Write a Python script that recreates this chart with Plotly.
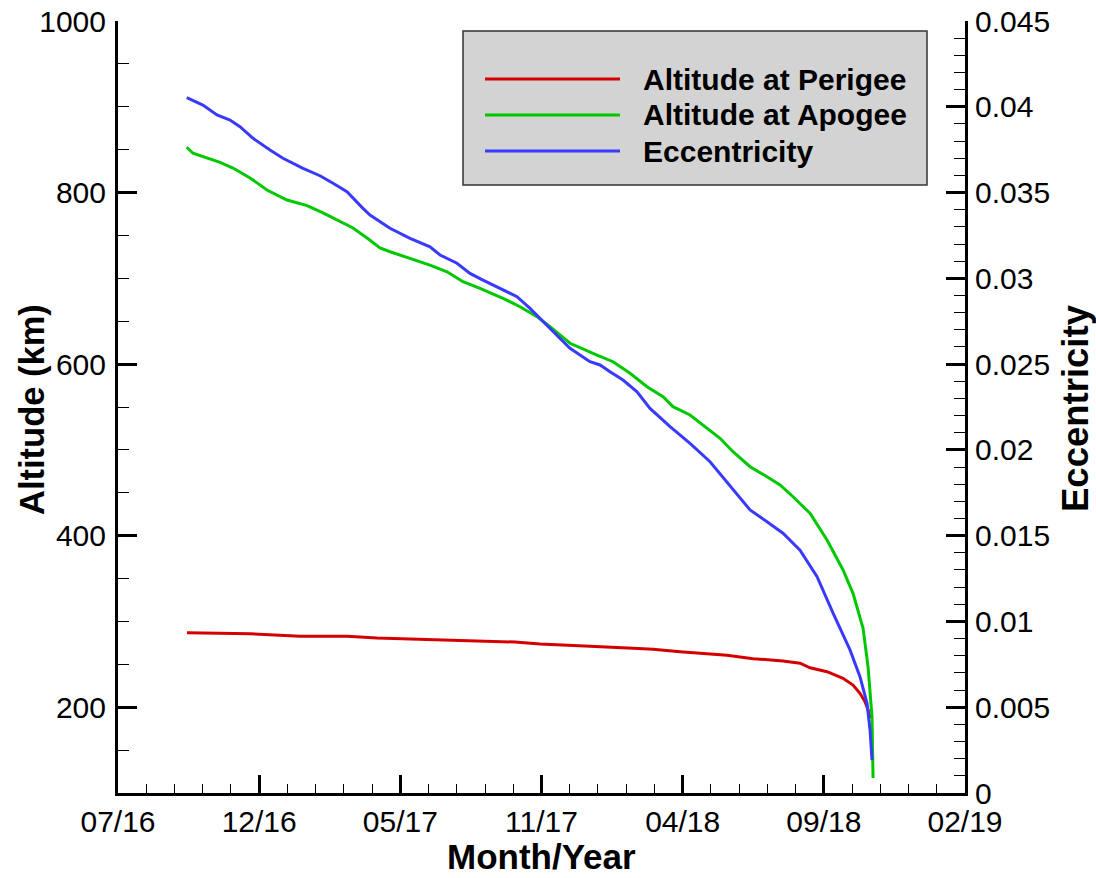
import plotly.graph_objects as go

# ---------------- data (x in days since the 07/16 tick) ----------------
tick_days = [0, 150, 300, 450, 600, 750, 900]
tick_labels = ["07/16", "12/16", "05/17", "11/17", "04/18", "09/18", "02/19"]

perigee_days = [73.3, 140.3, 193.4, 243.3, 275.2, 329.4, 376.2, 421.9, 448.4, 472.9, 501.5,
                547.2, 568.5, 597.2, 621.6, 647.1, 674.8, 706.6, 724.7, 735.3, 753.4, 770.4,
                781.0, 788.4, 793.8, 797.0, 799.1]
perigee_alt = [286.9, 285.7, 282.7, 282.7, 280.7, 279.2, 277.2, 276.0, 273.7, 272.2, 271.0,
               268.7, 267.6, 264.8, 262.9, 260.6, 256.6, 253.9, 251.3, 246.0, 241.4, 233.7,
               225.9, 216.2, 206.4, 196.8, 187.4]

apogee_days = [73.0, 79.7, 108.4, 122.2, 140.3, 158.3, 179.6, 200.9, 217.8, 232.7, 249.7,
               264.6, 278.4, 289.0, 310.3, 331.5, 349.6, 366.6, 384.7, 409.1, 427.2, 445.2,
               459.0, 480.3, 509.0, 526.0, 544.1, 562.1, 579.1, 589.7, 607.8, 629.1, 639.7,
               653.5, 671.6, 689.6, 703.5, 717.3, 735.3, 753.4, 770.4, 781.0, 791.7, 797.0,
               801.2, 802.3]
apogee_alt = [852.8, 845.8, 835.3, 828.6, 817.0, 803.0, 791.3, 784.7, 776.2, 768.0, 758.7,
              747.0, 735.4, 731.0, 723.4, 715.5, 707.7, 696.1, 688.4, 676.7, 666.9, 655.3,
              643.6, 624.3, 610.6, 602.8, 589.3, 573.7, 562.0, 550.4, 540.7, 523.2, 513.5,
              497.9, 480.4, 468.7, 459.1, 445.4, 426.1, 395.0, 360.0, 332.8, 292.0, 246.9,
              188.6, 117.5]

ecc_days = [73.0, 90.2, 105.2, 119.0, 129.6, 143.5, 161.5, 175.3, 196.6, 214.6, 228.5,
            243.3, 260.3, 267.8, 289.0, 310.3, 331.5, 342.2, 360.2, 374.0, 387.8, 409.1,
            424.0, 437.8, 459.0, 480.3, 501.5, 512.2, 522.8, 536.6, 551.5, 565.3, 586.6,
            607.8, 629.1, 653.5, 671.6, 689.6, 706.6, 724.7, 742.8, 759.8, 777.8, 788.4,
            795.9, 799.1, 801.2]
ecc_vals = [0.04053, 0.04010, 0.03952, 0.03923, 0.03884, 0.03816, 0.03748, 0.03700, 0.03641,
            0.03598, 0.03554, 0.03505, 0.03408, 0.03369, 0.03292, 0.03233, 0.03184, 0.03136,
            0.03088, 0.03029, 0.02990, 0.02932, 0.02893, 0.02825, 0.02709, 0.02592, 0.02514,
            0.02495, 0.02456, 0.02407, 0.02339, 0.02242, 0.02135, 0.02038, 0.01931, 0.01766,
            0.01650, 0.01581, 0.01514, 0.01416, 0.01261, 0.01048, 0.00834, 0.00678, 0.00523,
            0.00367, 0.00192]

series_names = ["Altitude at Perigee", "Altitude at Apogee", "Eccentricity"]
series_colors = ["#d40000", "#00c800", "#3a3aff"]

# ---------------- figure ----------------
W, H = 1096, 878
L, R, T, B = 118, 965, 21, 793
FONT = "Liberation Sans, Arial, sans-serif"

def px(x):
    return (x - L) / (R - L)

def py(y):
    return (B - y) / (B - T)

fig = go.Figure()
fig.add_trace(go.Scatter(x=perigee_days, y=perigee_alt, mode="lines", name=series_names[0],
                         line=dict(color=series_colors[0], width=3), showlegend=False))
fig.add_trace(go.Scatter(x=apogee_days, y=apogee_alt, mode="lines", name=series_names[1],
                         line=dict(color=series_colors[1], width=3), showlegend=False))
fig.add_trace(go.Scatter(x=ecc_days, y=ecc_vals, mode="lines", name=series_names[2], yaxis="y2",
                         line=dict(color=series_colors[2], width=3), showlegend=False))

tickfont = dict(family=FONT, size=30, color="black")

fig.update_layout(
    width=W, height=H,
    margin=dict(l=L, r=W - R, t=T, b=H - B, pad=0, autoexpand=False),
    paper_bgcolor="white", plot_bgcolor="white",
    showlegend=False,
    xaxis=dict(range=[0, 900], tickvals=tick_days, ticktext=tick_labels, automargin=False,
               showgrid=False, zeroline=False, showline=True, linecolor="black", linewidth=3,
               ticks="inside", ticklen=18, tickwidth=3, tickcolor="black",
               minor=dict(ticks="inside", dtick=30, tick0=0, ticklen=9, tickwidth=1,
                          tickcolor="black", showgrid=False),
               tickfont=tickfont, ticklabelstandoff=0),
    yaxis=dict(range=[100, 1000], tickvals=[200, 400, 600, 800, 1000], automargin=False,
               showgrid=False, zeroline=False, showline=True, linecolor="black", linewidth=3,
               ticks="inside", ticklen=19, tickwidth=3, tickcolor="black",
               minor=dict(ticks="inside", dtick=50, tick0=0, ticklen=11, tickwidth=1,
                          tickcolor="black", showgrid=False),
               tickfont=tickfont, ticklabelstandoff=3),
    yaxis2=dict(range=[0, 0.045], dtick=0.005, tick0=0, overlaying="y", side="right",
                automargin=False,
                showgrid=False, zeroline=False, showline=True, linecolor="black", linewidth=3,
                ticks="inside", ticklen=19, tickwidth=3, tickcolor="black",
                minor=dict(ticks="inside", dtick=0.001, tick0=0, ticklen=11, tickwidth=1,
                           tickcolor="black", showgrid=False),
                tickfont=tickfont, ticklabelstandoff=1),
)

# axis titles
fig.add_annotation(text="<b>Altitude (km)</b>", xref="paper", yref="paper",
                   x=px(32), y=py(410), textangle=-90, showarrow=False,
                   font=dict(family=FONT, size=34.5, color="black"),
                   xanchor="center", yanchor="middle")
fig.add_annotation(text="<b>Eccentricity</b>", xref="paper", yref="paper",
                   x=px(1075), y=py(408), textangle=-90, showarrow=False,
                   font=dict(family=FONT, size=36.5, color="black"),
                   xanchor="center", yanchor="middle")
fig.add_annotation(text="<b>Month/Year</b>", xref="paper", yref="paper",
                   x=px(541), y=py(856), showarrow=False,
                   font=dict(family=FONT, size=35, color="black"),
                   xanchor="center", yanchor="middle")

# legend box (drawn manually to match reference style)
fig.add_shape(type="rect", xref="paper", yref="paper",
              x0=px(463), x1=px(927), y0=py(185), y1=py(31),
              fillcolor="#d3d3d3", line=dict(color="#333333", width=1.5), layer="above")
legend_rows = [79, 115, 151]
for name, color, yrow in zip(series_names, series_colors, legend_rows):
    fig.add_shape(type="line", xref="paper", yref="paper",
                  x0=px(485), x1=px(620), y0=py(yrow), y1=py(yrow),
                  line=dict(color=color, width=3), layer="above")
    fig.add_annotation(text="<b>" + name + "</b>", xref="paper", yref="paper",
                       x=px(641), y=py(yrow), showarrow=False, xanchor="left", yanchor="middle",
                       font=dict(family=FONT, size=30, color="black"))

fig.write_html("out.html", config={"displayModeBar": False},
               post_script="document.body.style.margin='0';")
